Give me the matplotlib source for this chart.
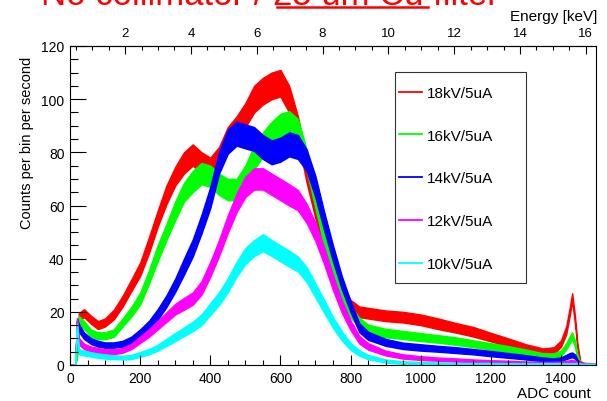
import matplotlib
matplotlib.use("Agg")
import matplotlib.pyplot as plt
from matplotlib.ticker import MultipleLocator
from matplotlib.lines import Line2D
from matplotlib.patches import Rectangle

plt.rcParams['font.family'] = ['Liberation Sans', 'DejaVu Sans']

adc = [0, 15, 20, 25, 40, 60, 80, 100, 125, 150, 175, 200, 225, 250, 275, 300, 325, 350,
       375, 400, 425, 450, 475, 500, 525, 550, 575, 600, 625, 650, 675, 700, 725, 750, 775, 800,
       825, 850, 900, 950, 1000, 1050, 1100, 1150, 1200, 1250, 1300, 1350,
       1380, 1400, 1415, 1425, 1432, 1440, 1447, 1455, 1470, 1500]

labels = ["18kV/5uA", "16kV/5uA", "14kV/5uA", "12kV/5uA", "10kV/5uA"]
colors = ["#ff0000", "#00ff00", "#0000ff", "#ff00ff", "#00ffff"]

# counts per bin per second (middle of the noisy band)
rate_18kv = [0, 0, 4, 18, 19.5, 17, 15, 16, 19, 24, 30, 36, 45, 55, 64, 71, 76, 79,
             76, 74, 78, 85, 89, 94, 100, 103, 105, 106, 100, 89, 73, 59, 46, 35, 28, 22,
             20, 19.5, 18.5, 18, 17, 15.5, 14, 12.5, 10.5, 8.5, 6.5, 5,
             5.5, 8, 13, 20, 25.5, 17, 7, 1, 0.3, 0.2]
rate_16kv = [0, 0, 4, 17, 15, 12, 11, 11, 12, 16, 20, 25, 33, 42, 50, 58, 65, 69,
             72, 71, 68, 66, 66, 71, 78, 83, 87, 90, 91, 88, 77, 63, 48, 36, 27, 20,
             16, 13.5, 12, 11.3, 10.5, 9.8, 9, 8, 7, 6, 4.8, 3.5,
             3.5, 4.5, 7, 9.5, 11, 8, 3, 0.8, 0.3, 0.2]
rate_14kv = [0, 0, 17, 14, 11, 9, 8, 7.5, 7.5, 8, 9.5, 12, 15, 19, 24, 30, 37, 44,
             53, 63, 76, 84, 87, 86, 85, 82, 80, 81, 83, 82, 77, 67, 54, 42, 31, 22,
             14, 11, 8.5, 7.2, 6.6, 6.1, 5.6, 5, 4.3, 3.6, 2.9, 2.1,
             1.8, 2.2, 3, 3.6, 3.8, 3.2, 1.5, 0.6, 0.3, 0.2]
rate_12kv = [0, 0, 17, 9, 7, 6, 5.5, 5, 5, 5.5, 7, 9.5, 12, 15, 18, 21, 23, 25,
             29, 36, 44, 53, 61, 67, 70, 70, 68, 66, 64, 62, 57, 50, 41, 31, 22, 15,
             9.5, 7, 4.5, 3.2, 2.6, 2.2, 1.9, 1.6, 1.3, 1.1, 0.9, 0.8,
             0.8, 0.9, 1.1, 1.3, 1.4, 1.2, 0.9, 0.7, 0.5, 0.4]
rate_10kv = [0, 0, 15, 5, 4.5, 4, 3.5, 3.2, 2.9, 2.8, 3, 4, 5, 6.5, 8.5, 10.5, 12.5, 14.5,
             17, 21, 25, 30, 36, 41, 44, 46, 44, 42, 40, 38, 34, 28, 22, 16, 11, 7,
             4.5, 3, 1.5, 0.9, 0.7, 0.6, 0.5, 0.5, 0.5, 0.4, 0.4, 0.4,
             0.4, 0.4, 0.4, 0.4, 0.4, 0.4, 0.4, 0.3, 0.3, 0.3]

# half width of the bin-to-bin noise band
noise_18kv = [0, 0, 0.5, 1.5, 1.5, 1.5, 1.5, 1.5, 1.8, 2, 2.2, 2.5, 3, 3, 3.5, 3.5, 4, 4,
              4, 4, 4, 4.5, 4.5, 4.5, 5, 5, 5, 5, 5, 4.5, 4.5, 4, 3.5, 3, 3, 2.5,
              2, 2, 2, 2, 2, 2, 1.8, 1.8, 1.6, 1.5, 1.3, 1.2,
              1.2, 1.2, 1.5, 1.5, 1.5, 1.5, 1, 0.5, 0.2, 0.2]
noise_16kv = [0, 0, 0.5, 1.5, 1.5, 1.3, 1.3, 1.3, 1.4, 1.5, 1.8, 2.2, 2.5, 3, 3, 3.5, 3.5, 4,
              4, 4, 4, 4, 4, 4, 4.5, 4.5, 4.5, 4.5, 4.5, 4.5, 4, 4, 3.5, 3, 2.5, 2.2,
              1.8, 1.7, 1.6, 1.5, 1.5, 1.4, 1.4, 1.3, 1.2, 1.1, 1, 0.9,
              0.9, 1, 1.2, 1.3, 1.3, 1.2, 0.8, 0.4, 0.2, 0.2]
noise_14kv = [0, 0, 0.5, 1.5, 1.2, 1.1, 1.1, 1, 1, 1.1, 1.2, 1.4, 1.6, 2, 2.2, 2.5, 3, 3.2,
              3.5, 4, 4, 4.5, 4.5, 4.5, 4.5, 4.5, 4.5, 4.5, 4.5, 4.5, 4, 4, 3.5, 3, 2.5, 2,
              1.7, 1.5, 1.3, 1.2, 1.2, 1.1, 1.1, 1, 1, 0.9, 0.8, 0.7,
              0.7, 0.7, 0.8, 0.9, 0.9, 0.8, 0.6, 0.3, 0.2, 0.2]
noise_12kv = [0, 0, 0.5, 1.2, 1, 0.9, 0.9, 0.9, 0.9, 0.9, 1, 1.2, 1.4, 1.6, 1.8, 2, 2.2, 2.3,
              2.5, 2.8, 3, 3.3, 3.5, 3.8, 4, 4, 4, 4, 4, 3.8, 3.6, 3.4, 3.2, 2.8, 2.3, 1.8,
              1.4, 1.2, 0.9, 0.8, 0.7, 0.6, 0.6, 0.5, 0.5, 0.5, 0.4, 0.4,
              0.4, 0.4, 0.4, 0.5, 0.5, 0.4, 0.4, 0.3, 0.3, 0.2]
noise_10kv = [0, 0, 0.5, 1, 0.9, 0.8, 0.8, 0.8, 0.7, 0.7, 0.8, 0.9, 1, 1.1, 1.3, 1.5, 1.6, 1.8,
              2, 2.2, 2.4, 2.6, 2.8, 3, 3, 3.2, 3, 3, 3, 2.8, 2.8, 2.6, 2.4, 2, 1.7, 1.3,
              1, 0.8, 0.6, 0.5, 0.4, 0.4, 0.3, 0.3, 0.3, 0.3, 0.3, 0.3,
              0.3, 0.3, 0.3, 0.3, 0.3, 0.3, 0.3, 0.2, 0.2, 0.2]

rates = [rate_18kv, rate_16kv, rate_14kv, rate_12kv, rate_10kv]
noises = [noise_18kv, noise_16kv, noise_14kv, noise_12kv, noise_10kv]

# energy calibration of the top axis
e_offset = 0.327
e_slope = 0.010654

fig = plt.figure(figsize=(6.07, 4.02), dpi=100)
ax = fig.add_axes([70 / 607, 1 - 366 / 402, 526 / 607, 319 / 402])

for rate, noise, col in zip(rates, noises, colors):
    lo = [max(r - n, 0) for r, n in zip(rate, noise)]
    hi = [r + n for r, n in zip(rate, noise)]
    ax.fill_between(adc, lo, hi, color=col, lw=1.0)

ax.set_xlim(0, 1500)
ax.set_ylim(0, 120)
ax.xaxis.set_major_locator(MultipleLocator(200))
ax.xaxis.set_minor_locator(MultipleLocator(50))
ax.yaxis.set_major_locator(MultipleLocator(20))
ax.yaxis.set_minor_locator(MultipleLocator(5))
ax.tick_params(axis='x', which='major', direction='in', length=7.2, width=0.8, labelsize=10, pad=4, top=False)
ax.tick_params(axis='x', which='minor', direction='in', length=3.6, width=0.8, top=False)
ax.tick_params(axis='y', which='major', direction='in', length=11.3, width=0.8, labelsize=10, pad=4, right=False)
ax.tick_params(axis='y', which='minor', direction='in', length=5.6, width=0.8, right=False)
for sp in ax.spines.values():
    sp.set_linewidth(0.8)

sec = ax.secondary_xaxis('top', functions=(lambda a: e_offset + e_slope * a,
                                           lambda e: (e - e_offset) / e_slope))
sec.xaxis.set_major_locator(MultipleLocator(2))
sec.xaxis.set_minor_locator(MultipleLocator(0.5))
sec.tick_params(which='major', direction='in', length=5.8, width=0.8, labelsize=9.5, pad=5)
sec.tick_params(which='minor', direction='in', length=2.9, width=0.8)
sec.spines['top'].set_linewidth(0.8)

fig.text(597 / 607, 1 - 24 / 402, "Energy [keV]", ha='right', va='bottom', fontsize=11)
fig.text(591 / 607, 1 - 387 / 402, "ADC count", ha='right', va='top', fontsize=11)
fig.text(27.5 / 607, 1 - 57 / 402, "Counts per bin per second", rotation=90,
         ha='center', va='top', fontsize=10.5)

# legend: frame plus entries, both inside the axes so the order is kept
ax.add_patch(Rectangle((395 / 607, 1 - 284 / 402), 131 / 607, 211 / 402,
                       transform=fig.transFigure, facecolor='white',
                       edgecolor='#333333', lw=0.8, zorder=5, clip_on=False))
handles = [Line2D([], [], color=c, lw=1.3) for c in colors]
leg = ax.legend(handles, labels, loc='upper left', bbox_to_anchor=(399 / 607, 1 - 87 / 402),
                bbox_transform=fig.transFigure, frameon=False, fontsize=11,
                handlelength=1.5, handletextpad=0.35, labelspacing=1.88, borderpad=0,
                borderaxespad=0)
leg.set_zorder(6)

# title, mostly cut off by the top edge
fig.text(41 / 607, 1 - 5 / 402, "No collimator / 25 um Cu filter", color='red',
         fontsize=25, ha='left', va='baseline')
fig.add_artist(Line2D([277 / 607, 428 / 607], [1 - 8 / 402, 1 - 8 / 402],
                      transform=fig.transFigure, color='red', lw=1.8))

fig.savefig("out.png", dpi=100)
